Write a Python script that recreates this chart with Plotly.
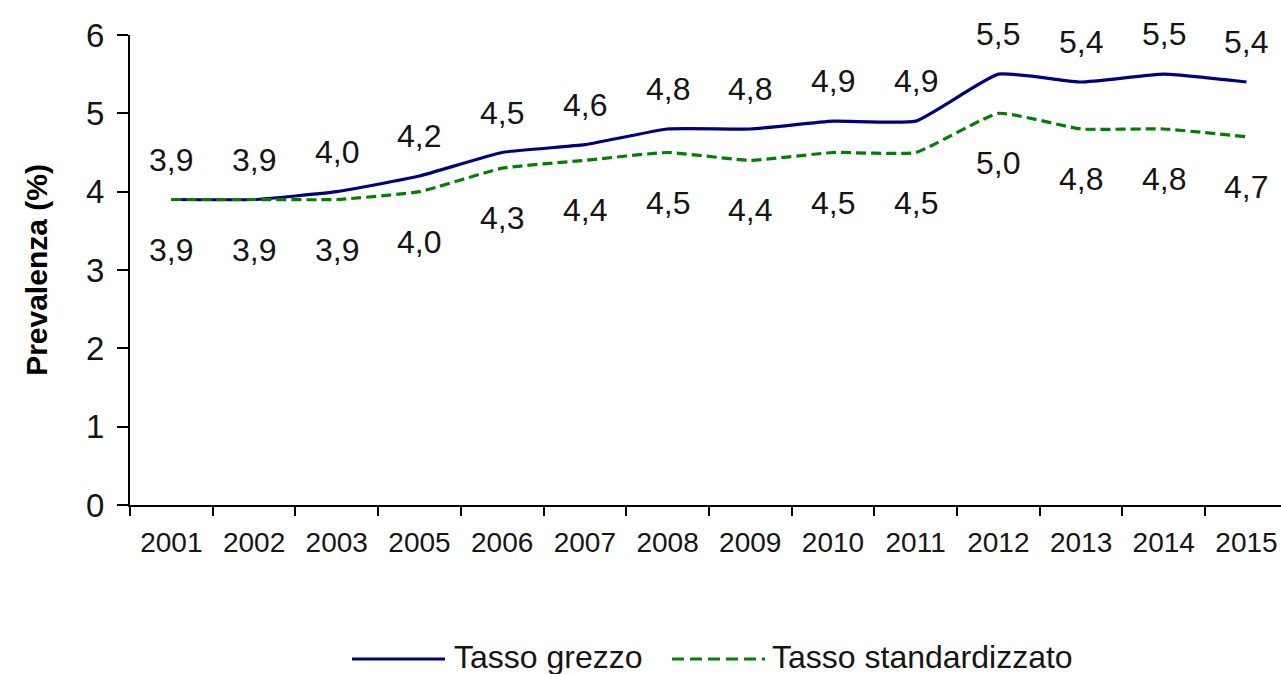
import plotly.graph_objects as go

years = ["2001", "2002", "2003", "2005", "2006", "2007", "2008",
         "2009", "2010", "2011", "2012", "2013", "2014", "2015"]
tasso_grezzo = [3.9, 3.9, 4.0, 4.2, 4.5, 4.6, 4.8, 4.8, 4.9, 4.9, 5.5, 5.4, 5.5, 5.4]
tasso_standard = [3.9, 3.9, 3.9, 4.0, 4.3, 4.4, 4.5, 4.4, 4.5, 4.5, 5.0, 4.8, 4.8, 4.7]
series_names = ["Tasso grezzo", "Tasso standardizzato"]
y_title = "Prevalenza (%)"

NAVY = "#000080"
GREEN = "#008000"
TXT = "#151515"
FONT = "Liberation Sans, Arial, sans-serif"

W, H = 1281, 674
L, T, B = 130, 35, 169
plot_w = W - L
plot_h = H - T - B

fig = go.Figure()
fig.add_trace(go.Scatter(x=years, y=tasso_grezzo, mode="lines", name=series_names[0],
                         line=dict(color=NAVY, width=3.2, shape="spline", smoothing=0.4),
                         showlegend=False))
fig.add_trace(go.Scatter(x=years, y=tasso_standard, mode="lines", name=series_names[1],
                         line=dict(color=GREEN, width=3.2, dash="10px,5px", shape="spline", smoothing=0.4),
                         showlegend=False))

def fmt(v):
    return f"{v:.1f}".replace(".", ",")

ann = []
for i, v in enumerate(tasso_grezzo):
    ann.append(dict(x=i, y=v, xref="x", yref="y", text=fmt(v), showarrow=False, yshift=40,
                    font=dict(family=FONT, size=32, color=TXT)))
for i, v in enumerate(tasso_standard):
    ann.append(dict(x=i, y=v, xref="x", yref="y", text=fmt(v), showarrow=False, yshift=-50,
                    font=dict(family=FONT, size=32, color=TXT)))

def px(xp):
    return (xp - L) / plot_w

def py(yp):
    return (H - B - yp) / plot_h

shapes = [
    dict(type="line", xref="paper", yref="paper", x0=px(352), x1=px(445), y0=py(659), y1=py(659),
         line=dict(color=NAVY, width=3)),
    dict(type="line", xref="paper", yref="paper", x0=px(672), x1=px(765), y0=py(659), y1=py(659),
         line=dict(color=GREEN, width=3, dash="12px,6px")),
]
ann.append(dict(xref="paper", yref="paper", x=px(452), y=py(657), xanchor="left", yanchor="middle",
                text=series_names[0], showarrow=False, font=dict(family=FONT, size=32, color=TXT)))
ann.append(dict(xref="paper", yref="paper", x=px(770), y=py(657), xanchor="left", yanchor="middle",
                text=series_names[1], showarrow=False, font=dict(family=FONT, size=32, color=TXT)))

span = plot_w / 82.7

fig.update_layout(
    width=W, height=H,
    margin=dict(l=L, r=0, t=T, b=B, pad=0),
    paper_bgcolor="white", plot_bgcolor="white",
    annotations=ann, shapes=shapes,
    xaxis=dict(type="category", range=[-0.5, -0.5 + span], showgrid=False, zeroline=False,
               showline=True, linecolor="#000", linewidth=2,
               ticks="outside", tickson="boundaries", ticklen=9, tickwidth=2, tickcolor="#000",
               ticklabelstandoff=11,
               tickfont=dict(family=FONT, size=28, color=TXT)),
    yaxis=dict(range=[0, 6], dtick=1, showgrid=False, zeroline=False,
               showline=True, linecolor="#000", linewidth=2,
               ticks="outside", ticklen=11, tickwidth=2, tickcolor="#000",
               ticklabelstandoff=6,
               tickfont=dict(family=FONT, size=33, color=TXT),
               title=dict(text="<b>" + y_title + "</b>", standoff=30,
                          font=dict(family=FONT, size=30, color="#000"))),
)

fig.write_html("out.html", config={"displayModeBar": False},
               post_script="document.body.style.margin='0';document.body.style.overflow='hidden';")
